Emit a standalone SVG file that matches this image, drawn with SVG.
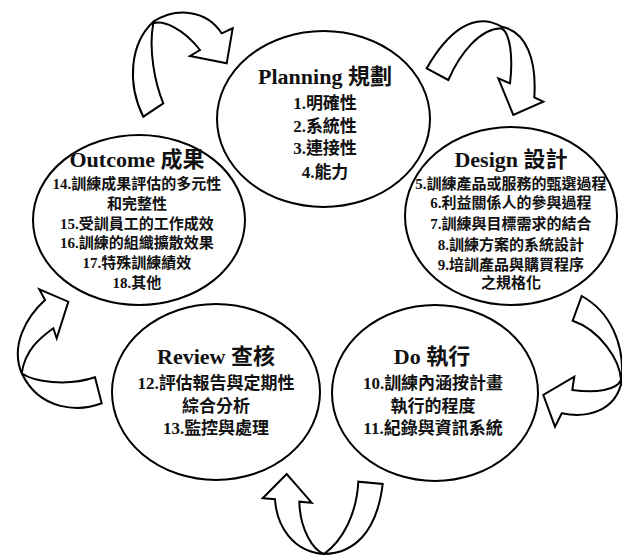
<svg xmlns="http://www.w3.org/2000/svg" width="622" height="556" viewBox="0 0 622 556">
<style>
.el{fill:#fff;stroke:#000;stroke-width:2}
.ar{fill:#fff;stroke:#000;stroke-width:2;stroke-linejoin:miter}
text{font-family:"Liberation Serif","Times New Roman","Noto Sans CJK TC",serif;font-weight:bold;text-anchor:middle;fill:#111}
.t{font-size:22px}
.m{font-size:17px}
.s{font-size:15px}
</style>
<rect width="622" height="556" fill="#fff"/>
<g id="connectors">
<path class="ar" d="M143.3,116.7 C126.7,83.3 130,43.3 153.3,21.7 C176.7,6.7 206.7,10 221.7,33.3 L232.7,28.3 L226.7,63.3 L190,56 L200,50 C183.3,28.3 163.3,20 153.3,23.3 C148.3,50 155,83.3 163.3,103.3 Z"/>
<path class="ar" d="M426.7,68.3 C446.7,33.3 473.3,10 501.7,26.7 C526.7,31.7 536.7,60 534.3,97.3 L543.3,101.7 L513.3,115 L498.3,78.3 L510,83.3 C513.3,56.7 510,33.3 501.7,28.3 C480,28.3 460,53.3 448.3,80 Z"/>
<path class="ar" d="M581.7,296 C610,311.7 625,343.3 621.7,381.7 C615,411.7 586.7,418.3 561.7,413.3 L555,426.7 L543.3,395 L574.3,376.7 L572.3,390 C596.7,393.3 616.7,390 621,380 C620,360 600,330 572.7,320.7 Z"/>
<path class="ar" d="M275,499.3 C276.7,526.7 293.3,551.7 324,554 C353.3,553.3 376.7,533.3 382.7,484 L358.3,481.7 C356.7,513.3 343.3,540 324,554 C313.3,550 300,530 299.3,501.7 L311.7,502.7 L286.7,474 L262.7,498.3 Z"/>
<path class="ar" d="M45,300 C26.7,316.7 10,345 21.7,373.3 C33.3,381.7 66.7,386.7 95,377.3 L101.7,403.3 C80,411.7 40,411.7 21.7,373.3 C25,350 40,338 53.3,328.3 L56.7,338.3 L68.3,301.7 L39.3,289.3 Z"/>
</g>
<g id="planning">
<ellipse class="el" cx="323.5" cy="119" rx="106.5" ry="88"/>
<text class="t" x="325" y="84">Planning 規劃</text>
<text class="m" x="325" y="109">1.明確性</text>
<text class="m" x="325" y="132">2.系統性</text>
<text class="m" x="325" y="154">3.連接性</text>
<text class="m" x="325" y="178">4.能力</text>
</g>
<g id="outcome">
<ellipse class="el" cx="139" cy="220" rx="106" ry="85"/>
<text class="t" x="137" y="167">Outcome 成果</text>
<text class="s" x="137" y="189">14.訓練成果評估的多元性</text>
<text class="s" x="137" y="209">和完整性</text>
<text class="s" x="137" y="229">15.受訓員工的工作成效</text>
<text class="s" x="137" y="248">16.訓練的組織擴散效果</text>
<text class="s" x="137" y="268">17.特殊訓練績效</text>
<text class="s" x="137" y="288">18.其他</text>
</g>
<g id="design">
<ellipse class="el" cx="511" cy="216" rx="106" ry="89"/>
<text class="t" x="511" y="167">Design 設計</text>
<text class="s" x="511" y="189">5.訓練產品或服務的甄選過程</text>
<text class="s" x="511" y="208">6.利益關係人的參與過程</text>
<text class="s" x="511" y="229">7.訓練與目標需求的結合</text>
<text class="s" x="511" y="250">8.訓練方案的系統設計</text>
<text class="s" x="511" y="270">9.培訓產品與購買程序</text>
<text class="s" x="511" y="288">之規格化</text>
</g>
<g id="review">
<ellipse class="el" cx="216" cy="392" rx="104" ry="88"/>
<text class="t" x="216" y="364">Review 查核</text>
<text class="m" x="216" y="389">12.評估報告與定期性</text>
<text class="m" x="216" y="412">綜合分析</text>
<text class="m" x="216" y="434">13.監控與處理</text>
</g>
<g id="do">
<ellipse class="el" cx="435" cy="393" rx="103" ry="88"/>
<text class="t" x="432" y="364">Do 執行</text>
<text class="m" x="433" y="389">10.訓練內涵按計畫</text>
<text class="m" x="433" y="412">執行的程度</text>
<text class="m" x="433" y="434">11.紀錄與資訊系統</text>
</g>
</svg>
